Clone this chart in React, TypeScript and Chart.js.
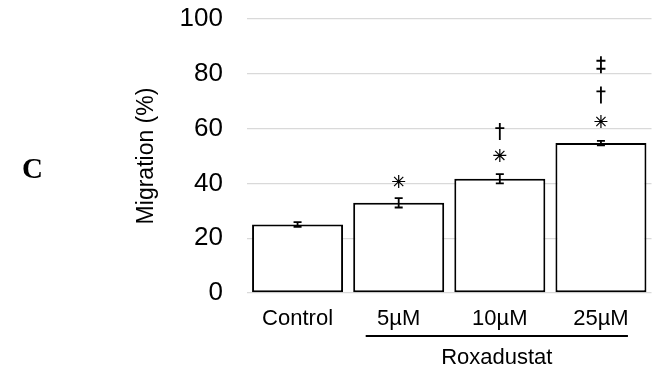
import React, { useEffect, useRef } from "react";
import { Chart, registerables } from "chart.js";

Chart.register(...registerables);

const categories = ["Control", "5µM", "10µM", "25µM"];
const means = [25.0, 32.9, 41.7, 54.7];
const errors = [0.9, 1.7, 1.7, 0.8];
const asteriskY = [null, 40.7, 50.2, 62.6];
const daggerY = [null, null, 58.9, 72.3];
const doubleDaggerY = [null, null, null, 83.3];
const yTicks = [0, 20, 40, 60, 80, 100];
const groupLabel = "Roxadustat";
const panelLabel = "C";

const FONT = "'Liberation Sans', Arial, sans-serif";

const overlay = {
  id: "overlay",
  afterDatasetsDraw(chart: any) {
    const ctx = chart.ctx;
    const x = chart.scales.x;
    const y = chart.scales.y;
    ctx.save();
    ctx.strokeStyle = "#000";
    ctx.fillStyle = "#000";
    // error bars
    ctx.lineWidth = 1.8;
    means.forEach((m, i) => {
      const cx = x.getPixelForValue(i);
      const yt = y.getPixelForValue(m + errors[i]);
      const yb = y.getPixelForValue(m - errors[i]);
      ctx.beginPath();
      ctx.moveTo(cx, yt);
      ctx.lineTo(cx, yb);
      ctx.moveTo(cx - 4, yt);
      ctx.lineTo(cx + 4, yt);
      ctx.moveTo(cx - 4, yb);
      ctx.lineTo(cx + 4, yb);
      ctx.stroke();
    });
    // asterisks
    ctx.lineWidth = 1.2;
    asteriskY.forEach((v, i) => {
      if (v == null) return;
      const cx = x.getPixelForValue(i);
      const cy = y.getPixelForValue(v);
      const r = 6.5;
      ctx.beginPath();
      for (let k = 0; k < 4; k++) {
        const a = (k * Math.PI) / 4;
        ctx.moveTo(cx - r * Math.cos(a), cy - r * Math.sin(a));
        ctx.lineTo(cx + r * Math.cos(a), cy + r * Math.sin(a));
      }
      ctx.stroke();
    });
    // daggers
    const drawDagger = (cx: number, cy: number, bars: number[]) => {
      ctx.lineWidth = 1.8;
      ctx.beginPath();
      ctx.moveTo(cx, cy - 8.5);
      ctx.lineTo(cx, cy + 8.5);
      bars.forEach((f) => {
        ctx.moveTo(cx - 4.5, cy + f);
        ctx.lineTo(cx + 4.5, cy + f);
      });
      ctx.stroke();
    };
    daggerY.forEach((v, i) => {
      if (v == null) return;
      drawDagger(x.getPixelForValue(i), y.getPixelForValue(v), [-3.5]);
    });
    doubleDaggerY.forEach((v, i) => {
      if (v == null) return;
      drawDagger(x.getPixelForValue(i), y.getPixelForValue(v), [-4, 4]);
    });
    // group line and label
    const x1 = x.getPixelForValue(1) - 33;
    const x2 = x.getPixelForValue(3) + 27;
    ctx.lineWidth = 2;
    ctx.beginPath();
    ctx.moveTo(x1, 336);
    ctx.lineTo(x2, 336);
    ctx.stroke();
    ctx.font = `22px ${FONT}`;
    ctx.textAlign = "center";
    ctx.textBaseline = "middle";
    ctx.fillText(groupLabel, (x1 + x2) / 2, 358);
    // panel label
    ctx.font = `bold 29px 'Liberation Serif', 'Times New Roman', serif`;
    ctx.textAlign = "left";
    ctx.textBaseline = "alphabetic";
    ctx.fillText(panelLabel, 22, 178);
    ctx.restore();
  },
};

export default function App() {
  const ref = useRef<HTMLCanvasElement>(null);
  useEffect(() => {
    if (!ref.current) return;
    const chart = new Chart(ref.current, {
      type: "bar",
      data: {
        labels: categories,
        datasets: [
          {
            data: means,
            backgroundColor: "#ffffff",
            borderColor: "#000000",
            borderWidth: 2,
            borderSkipped: false,
            barPercentage: 0.9,
            categoryPercentage: 1.0,
          },
        ],
      },
      options: {
        responsive: false,
        animation: false,
        layout: { padding: { left: 129, right: 5.5, top: 19, bottom: 0 } },
        plugins: { legend: { display: false }, tooltip: { enabled: false } },
        scales: {
          x: {
            grid: { display: false, drawTicks: false },
            border: { display: false },
            ticks: { color: "#000", font: { family: FONT, size: 22 }, padding: 13 },
            afterFit(s: any) {
              s.height = 77;
            },
          },
          y: {
            min: 0,
            max: 100,
            afterBuildTicks(s: any) {
              s.ticks = yTicks.map((v) => ({ value: v }));
            },
            grid: { color: "#d9d9d9", lineWidth: 1.3, drawTicks: false },
            border: { display: false },
            ticks: { color: "#000", font: { family: FONT, size: 26 }, padding: 24 },
            title: {
              display: true,
              text: "Migration (%)",
              color: "#000",
              font: { family: FONT, size: 23 },
              padding: { top: 4, bottom: 0 },
            },
            afterFit(s: any) {
              s.width = 118;
              s.paddingTop = 0;
              s.paddingBottom = 0;
            },
          },
        },
      },
      plugins: [overlay],
    });
    return () => chart.destroy();
  }, []);
  return (
    <div style={{ position: "absolute", left: 0, top: 0, width: 657, height: 370, background: "#fff" }}>
      <canvas ref={ref} width={657} height={370} style={{ width: 657, height: 370 }} />
    </div>
  );
}
